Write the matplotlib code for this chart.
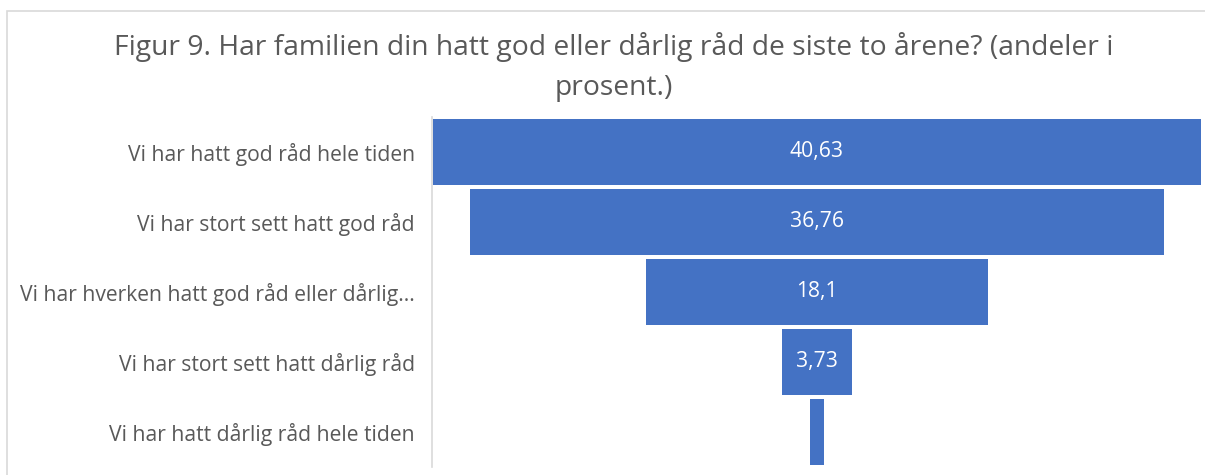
import matplotlib.pyplot as plt
from matplotlib.patches import Rectangle

# Data
categories = [
    'Vi har hatt god råd hele tiden',
    'Vi har stort sett hatt god råd',
    'Vi har hverken hatt god råd eller dårlig...',
    'Vi har stort sett hatt dårlig råd',
    'Vi har hatt dårlig råd hele tiden',
]
values = [40.63, 36.76, 18.1, 3.73, 0.78]
value_labels = ['40,63', '36,76', '18,1', '3,73', '']

title_lines = ['Figur 9. Har familien din hatt god eller dårlig råd de siste to årene? (andeler i',
               'prosent.)']

plt.rcParams['font.family'] = ['Open Sans', 'DejaVu Sans']
text_color = '#595959'
bar_color = '#4472C4'

W, H = 1205, 475
fig = plt.figure(figsize=(W / 100, H / 100), dpi=100)

# outer chart border
fig.patches.append(Rectangle((7 / W, -0.1), 1.2, (H - 11) / H + 0.1,
                             transform=fig.transFigure, fill=False,
                             edgecolor='#D9D9D9', linewidth=1.2))

ax = fig.add_axes([433 / W, 8 / H, (1201 - 433) / W, (467 - 117) / H])

half = max(values) / 2
y = list(range(len(values)))
lefts = [-v / 2 for v in values]
ax.barh(y, values, left=lefts, height=0.95, color=bar_color)

for yi, v, lab in zip(y, values, value_labels):
    if lab:
        ax.text(0, yi, lab, ha='center', va='center', color='white', fontsize=15.2)

ax.set_xlim(-half, half)
ax.set_ylim(len(values) - 0.5, -0.5)
ax.set_xticks([])
ax.set_yticks(y)
ax.set_yticklabels(categories)
ax.tick_params(axis='y', length=0, pad=12.5, labelsize=15.2, labelcolor=text_color)

for s in ['top', 'right', 'bottom']:
    ax.spines[s].set_visible(False)
ax.spines['left'].set_color('#D9D9D9')
ax.spines['left'].set_linewidth(1.2)
ax.spines['left'].set_position(('data', -half - 0.05))

fig.text(614 / W, 1 - 47 / H, title_lines[0], ha='center', va='center',
         fontsize=20.3, color=text_color)
fig.text(614 / W, 1 - 88 / H, title_lines[1], ha='center', va='center',
         fontsize=20.3, color=text_color)

fig.savefig('out.png', dpi=100)
